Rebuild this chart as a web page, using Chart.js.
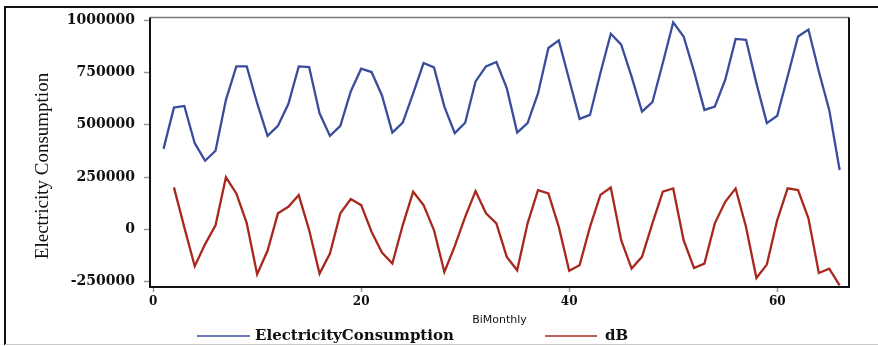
<!DOCTYPE html>
<html lang="en">
  <head>
    <meta charset="UTF-8" />
    <title>Electricity Consumption and dB by BiMonthly period</title>
    <script src="https://cdn.jsdelivr.net/npm/chart.js@4"></script>
    <style>
      body { margin: 0; background: #fff; }
    </style>
  </head>
  <body>
    <canvas id="myChart" width="878" height="346"></canvas>

    <script>
      // values (bimonthly periods 1..66)
      const periods = [1, 2, 3, 4, 5, 6, 7, 8, 9, 10, 11, 12, 13, 14, 15, 16, 17, 18, 19, 20,
        21, 22, 23, 24, 25, 26, 27, 28, 29, 30, 31, 32, 33, 34, 35, 36, 37, 38, 39, 40,
        41, 42, 43, 44, 45, 46, 47, 48, 49, 50, 51, 52, 53, 54, 55, 56, 57, 58, 59, 60,
        61, 62, 63, 64, 65, 66];

      const consumption = [385000, 582000, 590000, 412000, 328000, 376000, 619000, 779000, 779000, 603000,
        447000, 495000, 599000, 779000, 776000, 555000, 447000, 495000, 659000, 768000,
        752000, 640000, 463000, 510000, 650000, 795000, 774000, 587000, 460000, 510000,
        707000, 779000, 800000, 675000, 463000, 508000, 650000, 867000, 903000, 715000,
        528000, 547000, 747000, 935000, 883000, 730000, 563000, 608000, 795000, 989000,
        922000, 755000, 571000, 587000, 715000, 910000, 906000, 699000, 508000, 543000,
        731000, 922000, 955000, 755000, 571000, 284000];

      // dB has no value for the first period
      const dB = [null, 201000, 10000, -176000, -70000, 20000, 249000, 172000, 30000, -214000,
        -102000, 77000, 108000, 164000, -3000, -211000, -115000, 77000, 145000, 116000,
        -11000, -110000, -163000, 21000, 180000, 116000, -3000, -203000, -80000, 60000,
        183000, 77000, 29000, -131000, -195000, 29000, 188000, 172000, 12000, -198000,
        -171000, 12000, 165000, 200000, -51000, -187000, -131000, 29000, 180000, 196000,
        -51000, -184000, -163000, 29000, 132000, 196000, 12000, -232000, -168000, 45000,
        196000, 188000, 53000, -208000, -187000, -267000];

      const xTicks = [0, 20, 40, 60];
      const yTicks = [-250000, 0, 250000, 500000, 750000, 1000000];

      const blue = '#3a4d9c';
      const red = '#a8281e';

      // frame, rotated y title and legend drawn by hand
      const decorations = {
        id: 'decorations',
        afterDraw(chart) {
          const ctx = chart.ctx;
          const a = chart.chartArea;
          ctx.save();

          // outer box
          ctx.strokeStyle = '#111';
          ctx.lineWidth = 2;
          ctx.beginPath();
          ctx.moveTo(878, 7);
          ctx.lineTo(5, 7);
          ctx.lineTo(5, 345);
          ctx.stroke();
          ctx.strokeStyle = '#ccc';
          ctx.lineWidth = 1;
          ctx.beginPath();
          ctx.moveTo(5, 344.5);
          ctx.lineTo(878, 344.5);
          ctx.stroke();

          // plot frame
          ctx.strokeStyle = '#777';
          ctx.lineWidth = 1.5;
          ctx.beginPath();
          ctx.moveTo(a.left, a.top);
          ctx.lineTo(a.right, a.top);
          ctx.stroke();
          ctx.strokeStyle = '#111';
          ctx.lineWidth = 2;
          ctx.beginPath();
          ctx.moveTo(a.left, a.top);
          ctx.lineTo(a.left, a.bottom);
          ctx.lineTo(a.right, a.bottom);
          ctx.lineTo(a.right, a.top);
          ctx.stroke();

          // y title
          ctx.fillStyle = '#111';
          ctx.font = '19px "Liberation Serif"';
          ctx.textAlign = 'center';
          ctx.textBaseline = 'middle';
          ctx.translate(43, 166);
          ctx.rotate(-Math.PI / 2);
          ctx.fillText('Electricity Consumption', 0, 0);
          ctx.restore();

          // legend
          ctx.save();
          ctx.lineWidth = 1.5;
          ctx.font = 'bold 15px "DejaVu Serif"';
          ctx.textBaseline = 'middle';
          ctx.fillStyle = '#111';
          ctx.strokeStyle = blue;
          ctx.beginPath();
          ctx.moveTo(197, 336);
          ctx.lineTo(250, 336);
          ctx.stroke();
          ctx.fillText('ElectricityConsumption', 255, 336);
          ctx.strokeStyle = red;
          ctx.beginPath();
          ctx.moveTo(545, 336);
          ctx.lineTo(597, 336);
          ctx.stroke();
          ctx.fillText('dB', 605, 336);
          ctx.restore();
        }
      };

      const ctx = document.getElementById('myChart').getContext('2d');
      const myChart = new Chart(ctx, {
        type: 'line',
        data: {
          datasets: [
            {
              label: 'ElectricityConsumption',
              data: periods.map((p, i) => ({ x: p, y: consumption[i] })),
              borderColor: blue,
              borderWidth: 2.3,
              pointRadius: 0,
              tension: 0
            },
            {
              label: 'dB',
              data: periods.map((p, i) => ({ x: p, y: dB[i] })),
              borderColor: red,
              borderWidth: 2.3,
              pointRadius: 0,
              tension: 0
            }
          ]
        },
        options: {
          responsive: false,
          animation: false,
          layout: { padding: { top: 17, right: 29, bottom: 19, left: 0 } },
          plugins: {
            legend: { display: false },
            tooltip: { enabled: false }
          },
          scales: {
            x: {
              type: 'linear',
              min: -0.3,
              max: 66.9,
              afterBuildTicks: axis => { axis.ticks = xTicks.map(v => ({ value: v })); },
              afterFit: scale => { scale.height = 40; },
              border: { display: false },
              grid: { drawOnChartArea: false, tickLength: 5, color: '#999', tickWidth: 1.5 },
              ticks: {
                padding: 3,
                color: '#111',
                font: { family: 'DejaVu Serif', size: 12, weight: 'bold' }
              },
              title: {
                display: true,
                text: 'BiMonthly',
                color: '#111',
                padding: { top: 4, bottom: 0 },
                font: { family: 'DejaVu Sans', size: 11 }
              }
            },
            y: {
              min: -275000,
              max: 1013000,
              afterBuildTicks: axis => { axis.ticks = yTicks.map(v => ({ value: v })); },
              afterFit: scale => { scale.width = 150; },
              border: { display: false },
              grid: { drawOnChartArea: false, tickLength: 6, color: '#999', tickWidth: 1.5 },
              ticks: {
                padding: 9,
                color: '#111',
                font: { family: 'DejaVu Serif', size: 14, weight: 'bold' },
                callback: v => String(v)
              }
            }
          }
        },
        plugins: [decorations]
      });
    </script>
  </body>
</html>
